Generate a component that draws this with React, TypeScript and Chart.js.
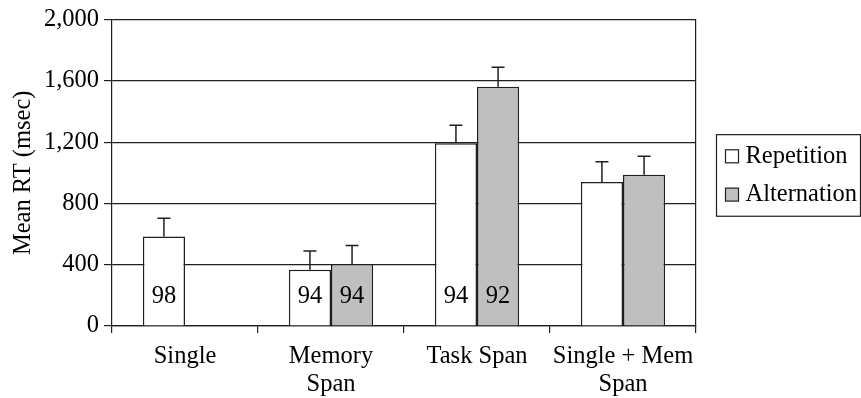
import React, { useEffect, useRef } from "react";
import { Chart, registerables } from "chart.js";

Chart.register(...registerables);

// Mean reaction times by condition, with standard-error bars and accuracy (%)
const CATEGORIES: string[][] = [
  ["Single"],
  ["Memory", "Span"],
  ["Task Span"],
  ["Single + Mem", "Span"],
];
const SERIES_NAMES = ["Repetition", "Alternation"];
const REPETITION_RT: (number | null)[] = [585, 368, 1193, 941];
const ALTERNATION_RT: (number | null)[] = [null, 405, 1563, 988];
const REPETITION_ERR: (number | null)[] = [118, 121, 118, 131];
const ALTERNATION_ERR: (number | null)[] = [null, 120, 127, 121];
const REPETITION_ACC: (string | null)[] = ["98", "94", "94", null];
const ALTERNATION_ACC: (string | null)[] = [null, "94", "92", null];
const Y_TICKS = [0, 400, 800, 1200, 1600, 2000];

const FONT = '"Liberation Serif", "Times New Roman", serif';
const FONT_SIZE = 24.5;
const INK = "#1f1f1f";
const FILLS = ["#ffffff", "#bfbfbf"];
const ERRORS = [REPETITION_ERR, ALTERNATION_ERR];
const ACCURACY = [REPETITION_ACC, ALTERNATION_ACC];

// Upward error bars with a short cap, drawn from the y scale
const errorBars = {
  id: "errorBars",
  afterDatasetsDraw(chart: any) {
    const { ctx } = chart;
    const yScale = chart.scales.y;
    ctx.save();
    ctx.strokeStyle = INK;
    ctx.lineWidth = 1.5;
    chart.data.datasets.forEach((ds: any, i: number) => {
      const meta = chart.getDatasetMeta(i);
      meta.data.forEach((bar: any, j: number) => {
        const v = ds.data[j];
        const e = ERRORS[i][j];
        if (v == null || e == null) return;
        const yTop = yScale.getPixelForValue(v + e);
        ctx.beginPath();
        ctx.moveTo(bar.x, bar.y);
        ctx.lineTo(bar.x, yTop);
        ctx.moveTo(bar.x - 6.5, yTop);
        ctx.lineTo(bar.x + 6.5, yTop);
        ctx.stroke();
      });
    });
    ctx.restore();
  },
};

// Accuracy figures printed near the foot of each bar
const accuracyLabels = {
  id: "accuracyLabels",
  afterDatasetsDraw(chart: any) {
    const { ctx } = chart;
    ctx.save();
    ctx.fillStyle = "#000";
    ctx.font = `${FONT_SIZE}px ${FONT}`;
    ctx.textAlign = "center";
    ctx.textBaseline = "alphabetic";
    chart.data.datasets.forEach((_ds: any, i: number) => {
      const meta = chart.getDatasetMeta(i);
      meta.data.forEach((bar: any, j: number) => {
        const t = ACCURACY[i][j];
        if (!t) return;
        ctx.fillText(t, bar.x, bar.base - 22.5);
      });
    });
    ctx.restore();
  },
};

// Framed legend to the right of the plot
const boxedLegend = {
  id: "boxedLegend",
  afterDraw(chart: any) {
    const { ctx, chartArea } = chart;
    const left = chartArea.right + 20;
    const right = chart.width - 1;
    const mid = (chartArea.top + chartArea.bottom) / 2 + 2.6;
    const half = 40.8;
    const row = 38.3;
    ctx.save();
    ctx.strokeStyle = INK;
    ctx.lineWidth = 1.2;
    ctx.strokeRect(left + 0.5, mid - half, right - left, half * 2);
    ctx.font = `${FONT_SIZE}px ${FONT}`;
    ctx.textAlign = "left";
    ctx.textBaseline = "alphabetic";
    chart.data.datasets.forEach((ds: any, i: number) => {
      const cy = mid + (i - 0.5) * row;
      const sx = left + 9.5;
      ctx.fillStyle = ds.backgroundColor;
      ctx.fillRect(sx, cy - 6.5, 13, 13);
      ctx.lineWidth = 1.2;
      ctx.strokeRect(sx, cy - 6.5, 13, 13);
      ctx.fillStyle = "#000";
      ctx.fillText(ds.label, sx + 20, cy + 6.7);
    });
    ctx.restore();
  },
};

export default function App() {
  const canvasRef = useRef<HTMLCanvasElement | null>(null);

  useEffect(() => {
    const canvas = canvasRef.current;
    if (!canvas) return;
    const values = [REPETITION_RT, ALTERNATION_RT];
    const chart = new Chart(canvas, {
      type: "bar",
      data: {
        labels: CATEGORIES,
        datasets: SERIES_NAMES.map((name, i) => ({
          label: name,
          data: values[i],
          backgroundColor: FILLS[i],
          borderColor: INK,
          borderWidth: 1.5,
          categoryPercentage: 0.577,
          barPercentage: 1,
        })),
      },
      options: {
        animation: false,
        responsive: false,
        locale: "en-US",
        layout: { padding: { left: 0, right: 165, top: 16, bottom: 0 } },
        plugins: {
          legend: { display: false },
          tooltip: { enabled: false },
        },
        scales: {
          x: {
            offset: true,
            grid: {
              offset: true,
              drawOnChartArea: false,
              drawTicks: true,
              tickLength: 7,
              color: INK,
              lineWidth: 1.2,
            },
            border: { display: true, color: INK, width: 1.2 },
            ticks: {
              color: "#000",
              padding: 10,
              maxRotation: 0,
              autoSkip: false,
              font: { family: FONT, size: FONT_SIZE, lineHeight: 28 / FONT_SIZE },
            },
            afterFit: (s: any) => {
              s.height = 72;
            },
          },
          y: {
            min: 0,
            max: 2000,
            afterBuildTicks: (s: any) => {
              s.ticks = Y_TICKS.map((v) => ({ value: v }));
            },
            grid: {
              color: INK,
              lineWidth: 1.2,
              drawTicks: true,
              tickLength: 8,
            },
            border: { display: true, color: INK, width: 1.2 },
            ticks: {
              color: "#000",
              padding: 5,
              font: { family: FONT, size: FONT_SIZE },
              callback: (v: any) => Number(v).toLocaleString("en-US"),
            },
            title: {
              display: true,
              text: "Mean RT (msec)",
              color: "#000",
              padding: { top: 8.5, bottom: 0 },
              font: { family: FONT, size: FONT_SIZE },
            },
            afterFit: (s: any) => {
              s.width = 112;
            },
          },
          frameRight: {
            type: "linear",
            position: "right",
            display: true,
            grid: { drawOnChartArea: false, drawTicks: false },
            ticks: { display: false },
            border: { display: true, color: INK, width: 1.2 },
            afterFit: (s: any) => {
              s.width = 0;
            },
          },
        },
      } as any,
      plugins: [errorBars, accuracyLabels, boxedLegend],
    });
    return () => chart.destroy();
  }, []);

  return (
    <div style={{ position: "absolute", left: 0, top: 0, width: 861, height: 398, background: "#fff" }}>
      <canvas ref={canvasRef} width={861} height={398} style={{ width: 861, height: 398, display: "block" }} />
    </div>
  );
}
